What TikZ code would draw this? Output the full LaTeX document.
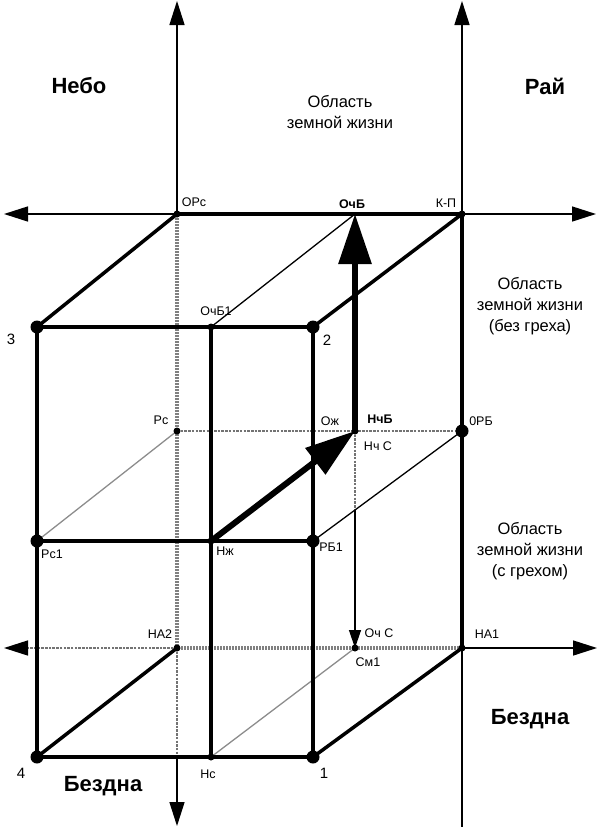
\documentclass[tikz,border=0pt]{standalone}
\usepackage{fontspec}
\setmainfont{Liberation Sans}
\usetikzlibrary{arrows.meta}
\begin{document}
\begin{tikzpicture}[x=1pt,y=-1pt,
  axisline/.style={line width=1.5pt},
  axisarrow/.style={line width=1.5pt,-{Triangle[length=24pt,width=15pt,color=black]}},
  edge/.style={line width=3.5pt,line cap=round,line join=round},
  thinblack/.style={line width=1.3pt},
  thingrey/.style={line width=1.3pt,black!45},
  hiddenthick/.style={line width=3.4pt,black!50},
  hiddengap/.style={line width=3.6pt,white,dash pattern=on 0.8pt off 2.2pt},
  hiddenthin/.style={line width=1.5pt,black!55,dash pattern=on 2.5pt off 1.2pt},
  bigarrow/.style={line width=6pt,-{Triangle[length=50pt,width=32pt]}},
  smallarrow/.style={line width=1.3pt,-{Triangle[length=18pt,width=12pt]}},
  bigdot/.style={circle,fill=black,inner sep=0pt,minimum size=13pt},
  smalldot/.style={circle,fill=black,inner sep=0pt,minimum size=7pt},
  lbl/.style={font=\fontsize{12.5}{14}\selectfont,inner sep=0pt},
  lblb/.style={font=\bfseries\fontsize{12.5}{14}\selectfont,inner sep=0pt},
  num/.style={font=\fontsize{15}{17}\selectfont,inner sep=0pt},
  region/.style={font=\fontsize{16.5}{21}\selectfont,align=center,inner sep=0pt},
  title/.style={font=\bfseries\fontsize{22}{25}\selectfont,inner sep=0pt}]
\useasboundingbox (0,0) rectangle (600,827);

% named points
\coordinate (ORc) at (177,214);
\coordinate (OchB) at (355,214);
\coordinate (KP) at (462,214);
\coordinate (p3) at (37,327);
\coordinate (OchB1) at (211,327);
\coordinate (p2) at (313,327);
\coordinate (Rc) at (177,431);
\coordinate (NchB) at (355,431);
\coordinate (ORB) at (462,431);
\coordinate (Rc1) at (37,541);
\coordinate (Nzh) at (211,541);
\coordinate (RB1) at (313,541);
\coordinate (NA2) at (177,648);
\coordinate (Sm1) at (355,648);
\coordinate (NA1) at (462,648);
\coordinate (p4) at (37,757);
\coordinate (Nc) at (211,757);
\coordinate (p1) at (313,757);
\coordinate (cross) at (355,510);
\coordinate (axLb) at (177,757);
\coordinate (axLtop) at (177,1);
\coordinate (axLbot) at (177,826);
\coordinate (axRtop) at (462,1);
\coordinate (axRbot) at (462,827);
\coordinate (axTl) at (4,214);
\coordinate (axTr) at (596,214);
\coordinate (axBl) at (4,648);
\coordinate (axBr) at (597,648);

% axes
\draw[axisarrow] (ORc) -- (axLtop);
\draw[axisarrow] (axLb) -- (axLbot);
\draw[axisarrow] (KP) -- (axRtop);
\draw[axisline] (NA1) -- (axRbot);
\draw[axisarrow] (ORc) -- (axTl);
\draw[axisarrow] (KP) -- (axTr);
\draw[axisarrow] (NA1) -- (axBr);
\draw[hiddenthin,-{Triangle[length=24pt,width=15pt,color=black]}] (NA2) -- (axBl);
\draw[hiddenthin] (NA2) -- (axLb);

% hidden lines
\draw[hiddenthick] (ORc) -- (NA2);
\draw[hiddenthick] (NA2) -- (NA1);
\draw[hiddengap] (ORc) -- (NA2);
\draw[hiddengap] (NA2) -- (NA1);
\draw[hiddenthin] (Rc) -- (ORB);
\draw[hiddenthin] (NchB) -- (cross);

% thin lines
\draw[thingrey] (Rc1) -- (Rc);
\draw[thingrey] (Nc) -- (Sm1);
\draw[thinblack] (OchB1) -- (OchB);
\draw[thinblack] (RB1) -- (ORB);
\draw[smallarrow] (cross) -- (Sm1);

% cube edges
\draw[edge] (p3) -- (p2) -- (p1) -- (p4) -- cycle;
\draw[edge] (p3) -- (ORc);
\draw[edge] (ORc) -- (KP);
\draw[edge] (p2) -- (KP);
\draw[edge] (KP) -- (NA1);
\draw[edge] (p1) -- (NA1);
\draw[edge] (p4) -- (NA2);
\draw[edge] (Rc1) -- (RB1);
\draw[edge] (OchB1) -- (Nc);

% big arrows
\draw[bigarrow] (NchB) -- (OchB);
\draw[bigarrow] (Nzh) -- (NchB);

% dots
\foreach \p in {p3,p2,p1,p4,Rc1,RB1,ORB} \node[bigdot] at (\p) {};
\foreach \p in {ORc,KP,Rc,NchB,NA2,Sm1,NA1,Nc,Nzh,OchB1} \node[smalldot] at (\p) {};

% labels
\node[lbl] (tORc) at (194,202) {ОРс};
\node[lblb] (tOchB) at (352,204) {ОчБ};
\node[lbl] (tKP) at (446,203) {К-П};
\node[lbl] (tOchB1) at (216,311) {ОчБ1};
\node[num] (t3) at (11,339) {3};
\node[num] (t2) at (327,340) {2};
\node[lbl] (tRc) at (161,420) {Рс};
\node[lbl] (tOzh) at (330,421) {Ож};
\node[lblb] (tNchB) at (380,419) {НчБ};
\node[lbl] (tORB) at (481,421) {0РБ};
\node[lbl] (tNchC) at (378,446) {Нч С};
\node[lbl] (tRc1) at (52,554) {Рс1};
\node[lbl] (tNzh) at (225,551) {Нж};
\node[lbl] (tRB1) at (331,547) {РБ1};
\node[lbl] (tNA2) at (160,634) {НА2};
\node[lbl] (tOchC) at (379,633) {Оч С};
\node[lbl] (tNA1) at (487,634) {НА1};
\node[lbl] (tSm1) at (368,662) {См1};
\node[num] (t4) at (21,773) {4};
\node[lbl] (tNc) at (208,774) {Нс};
\node[num] (t1) at (324,773) {1};

\node[region] (r1) at (340,112) {Область\\земной жизни};
\node[region] (r2) at (530,306) {Область\\земной жизни\\(без греха)};
\node[region] (r3) at (530,551) {Область\\земной жизни\\(с грехом)};

\node[title] (tNebo) at (79,86) {Небо};
\node[title] (tRaj) at (545,86) {Рай};
\node[title] (tBezR) at (530,719) {Бездна};
\node[title] (tBezL) at (103,786) {Бездна};
\end{tikzpicture}
\end{document}
